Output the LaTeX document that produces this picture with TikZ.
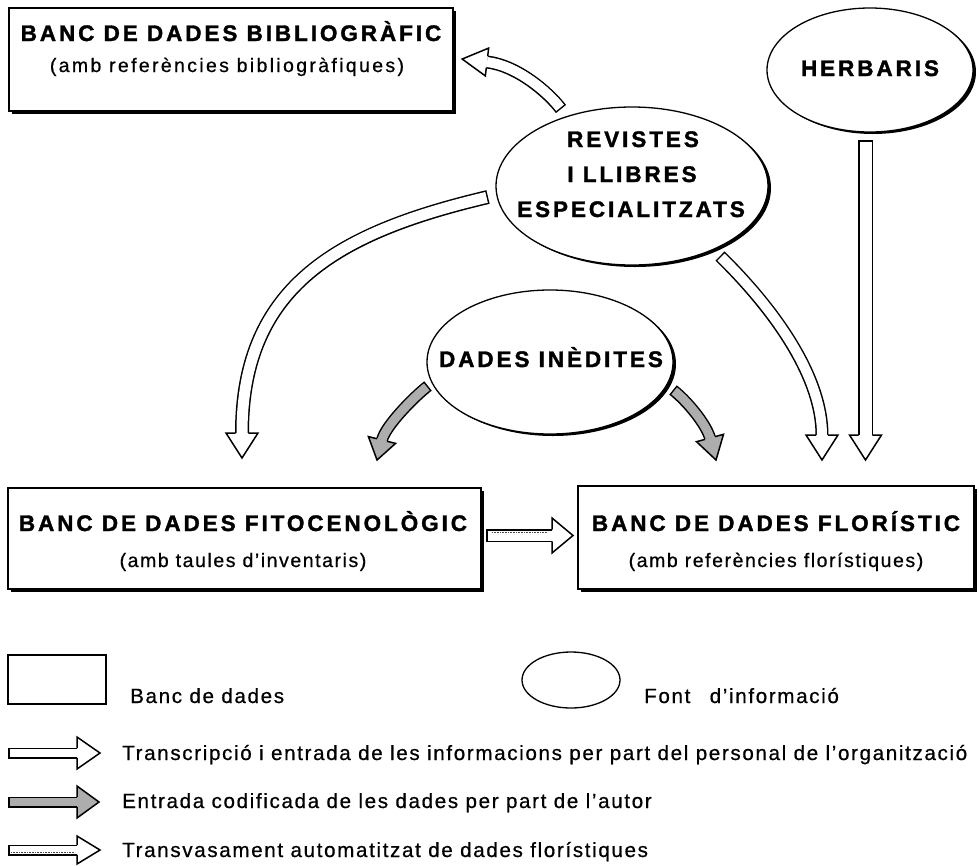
\documentclass[tikz,border=0pt]{standalone}
\usepackage{fontspec}
\setmainfont{Liberation Sans}
\newfontfamily\hbold{Liberation Sans}[LetterSpace=13, BoldFeatures={FakeBold=1.6}]
\newfontfamily\hreg{Liberation Sans}[LetterSpace=8, FakeBold=0.6]
\newfontfamily\hwide{Liberation Sans}[LetterSpace=12, FakeBold=0.6]
\usetikzlibrary{shapes.geometric,shadows}
\newcommand\ashaft[4]{\draw[line width=#1pt] #4; \draw[#3, line width=#2pt, shorten <=1.5pt] #4;}
\tikzset{
  pics/ahead/.style n args={4}{code={
    \fill[#4] (0,-#2) -- (#3,0) -- (0,#2) -- cycle;
    \draw[line width=1.5pt, line join=miter, miter limit=20] (0,-#1) -- (0,-#2) -- (#3,0) -- (0,#2) -- (0,#1);
  }},
  dbox/.style={draw, line width=1.5pt, fill=white, inner sep=0pt, anchor=north west,
     general shadow={fill=black, shadow xshift=3pt, shadow yshift=-3pt}},
  src/.style={ellipse, draw, line width=1.3pt, fill=white, inner sep=0pt,
     general shadow={fill=black, shadow xshift=3pt, shadow yshift=-2pt}},
  ttl/.style={anchor=base, inner sep=0pt, font=\hbold\bfseries\fontsize{22.5}{26}\selectfont},
  sub/.style={anchor=base, inner sep=0pt, font=\hreg\fontsize{19.5}{22}\selectfont},
  leg/.style={anchor=base west, inner sep=0pt, font=\hreg\fontsize{20.6}{24}\selectfont},
  grayfill/.style={black!32},
}
\begin{document}
\begin{tikzpicture}[x=1pt,y=-1pt]
\useasboundingbox[fill=white] (0,0) rectangle (979,865);
% data banks
\node[dbox, minimum width=444pt, minimum height=103pt] (bib) at (8,7) {};
\node[ttl] (bibt) at (231,41) {BANC DE DADES BIBLIOGRÀFIC};
\node[sub, font=\hwide\fontsize{19.5}{22}\selectfont] (bibs) at (227,72) {(amb referències bibliogràfiques)};
\node[dbox, minimum width=473pt, minimum height=101pt] (fito) at (7,487) {};
\node[ttl] (fitot) at (243,531) {BANC DE DADES FITOCENOLÒGIC};
\node[sub] (fitos) at (243,567) {(amb taules d’inventaris)};
\node[dbox, minimum width=396pt, minimum height=103pt] (flor) at (577,485) {};
\node[ttl] (flort) at (776,531) {BANC DE DADES FLORÍSTIC};
\node[sub] (flors) at (776,567) {(amb referències florístiques)};
% sources
\node[src, minimum width=272pt, minimum height=158pt] (rev) at (632,186) {};
\node[ttl] (rev1) at (633,147) {REVISTES};
\node[ttl] (rev2) at (632,182) {I LLIBRES};
\node[ttl] (rev3) at (631,217) {ESPECIALITZATS};
\node[src, minimum width=206pt, minimum height=124pt] (herb) at (870,70) {};
\node[ttl] (herbt) at (870,76) {HERBARIS};
\node[src, minimum width=246pt, minimum height=144pt] (ined) at (550,362) {};
\node[ttl] (inedt) at (551,367) {DADES INÈDITES};
% arrows
\coordinate (t1) at (561,109); \coordinate (b1) at (487,62);
\ashaft{13}{10}{white}{(t1) .. controls (548,92) and (517,65.5) .. (b1)}
\pic[rotate=-186.8] at (b1) {ahead={5.8}{14}{25}{white}};
\coordinate (t2) at (488,197); \coordinate (b2) at (242,433);
\ashaft{14}{11}{white}{(t2) .. controls (340,232) and (242,285) .. (b2)}
\pic[rotate=-90] at (b2) {ahead={6.3}{16}{25}{white}};
\coordinate (t3) at (720,256); \coordinate (b3) at (822,435);
\ashaft{13}{10}{white}{(t3) .. controls (780,315) and (822,380) .. (b3)}
\pic[rotate=-90] at (b3) {ahead={5.8}{16}{25}{white}};
\coordinate (t4) at (865.5,140); \coordinate (b4) at (865.5,435);
\ashaft{15}{12}{white}{(t4) -- (b4)}
\pic[rotate=-90] at (b4) {ahead={6.8}{16}{25}{white}};
\coordinate (t5) at (428,386); \coordinate (b5) at (382,440);
\ashaft{12}{9}{grayfill}{(t5) .. controls (415,396) and (385.6,425.4) .. (b5)}
\pic[rotate=-104] at (b5) {ahead={5.3}{14}{20.6}{grayfill}};
\coordinate (t6) at (673,390); \coordinate (b6) at (710,438);
\ashaft{12}{9}{grayfill}{(t6) .. controls (686,400) and (706,423.5) .. (b6)}
\pic[rotate=-74.7] at (b6) {ahead={5.3}{14}{22.8}{grayfill}};
\coordinate (t7) at (486,535.5); \coordinate (b7) at (552,535.5);
\ashaft{13}{10}{white}{(t7) -- (b7)}
\draw[densely dotted, line width=0.6pt, black!70] (492,532) -- (548,532);
\pic at (b7) {ahead={5.8}{17.5}{21}{white}};
% legend
\node[draw, line width=1.5pt, minimum width=98pt, minimum height=49pt, anchor=north west, inner sep=0pt] (lrect) at (7,654) {};
\node[leg] (lrectt) at (130,703) {Banc de dades};
\node[ellipse, draw, line width=1.3pt, minimum width=98pt, minimum height=56pt, inner sep=0pt] (lell) at (571,680) {};
\node[leg] (lellt) at (644,703) {Font \hspace{12pt}d’informació};
\coordinate (l1t) at (8,753); \coordinate (l1b) at (77,753);
\ashaft{11}{8}{white}{(l1t) -- (l1b)}
\pic at (l1b) {ahead={4.8}{16}{23}{white}};
\node[leg] (l1) at (122,760) {Transcripció i entrada de les informacions per part del personal de l’organització};
\coordinate (l2t) at (8,802); \coordinate (l2b) at (77,802);
\ashaft{11}{8}{grayfill}{(l2t) -- (l2b)}
\pic at (l2b) {ahead={4.8}{16}{22}{grayfill}};
\node[leg] (l2) at (122,808) {Entrada codificada de les dades per part de l’autor};
\coordinate (l3t) at (8,850); \coordinate (l3b) at (77,850);
\ashaft{11}{8}{white}{(l3t) -- (l3b)}
\draw[densely dotted, line width=0.6pt, black!70] (11,852.5) -- (75,852.5);
\pic at (l3b) {ahead={4.8}{14}{23}{white}};
\node[leg] (l3) at (122,857) {Transvasament automatitzat de dades florístiques};
\end{tikzpicture}
\end{document}
